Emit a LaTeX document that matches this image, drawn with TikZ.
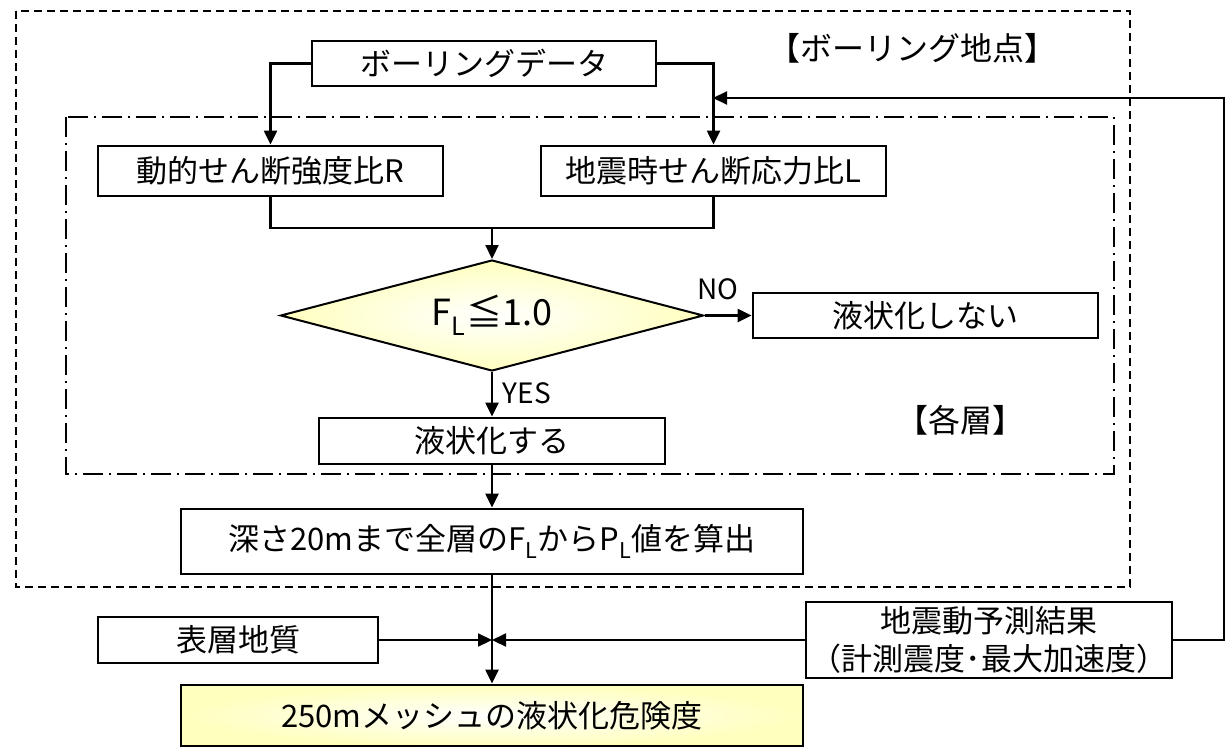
\documentclass[tikz,border=0pt]{standalone}
\usepackage{fontspec}
\setmainfont{Noto Sans CJK JP}
\usetikzlibrary{shapes.geometric,arrows.meta}
\definecolor{paleyellow}{RGB}{255,255,190}
\newcommand{\boxline}{2.8pt}
\newcommand{\linkline}{2.2pt}
\newcommand{\boxfont}{\fontsize{31}{38}\selectfont}

\tikzset{
  stepbox/.style={draw, line width=\boxline, inner sep=0pt, font=\boxfont},
  decision/.style={diamond, draw, line width=2pt, inner sep=0pt, aspect=3.8, shading=radial, inner color=white, outer color=paleyellow},
  link/.style={line width=\linkline, -{Triangle[length=14pt,width=13pt]}},
  plainlink/.style={line width=\linkline},
  tag/.style={inner sep=0pt, font=\fontsize{28}{34}\selectfont},
  framelabel/.style={inner sep=0pt, font=\fontsize{32}{38}\selectfont}
}

\begin{document}
\begin{tikzpicture}[x=1pt, y=-1pt]
\useasboundingbox (0,0) rectangle (1228,750);
\fill[white] (0,0) rectangle (1228,750);
%frames
\draw[line width=2.4pt, dash pattern=on 8pt off 5pt] (16,11) rectangle (1130,587);
\draw[line width=2.4pt, dash pattern=on 20pt off 6pt on 2pt off 6pt] (66,117) rectangle (1114,474);
\node[framelabel] (sitetag) at (912,48) {【ボーリング地点】};
\node[framelabel] (layertag) at (960,420) {【各層】};
%boxes
\node[stepbox, minimum width=344pt, minimum height=45pt] (boring) at (484,63.5) {ボーリングデータ};
\node[stepbox, minimum width=345pt, minimum height=50pt] (ratioR) at (270.5,171) {動的せん断強度比R};
\node[stepbox, minimum width=345pt, minimum height=50pt] (ratioL) at (713.5,171) {地震時せん断応力比L};
\node[decision, minimum width=423pt, minimum height=111pt, font=\fontsize{36}{42}\selectfont] (judge) at (492,315.5) {F\textsubscript{L}≦1.0};
\node[stepbox, minimum width=345pt, minimum height=45pt] (noliq) at (925.5,315.5) {液状化しない};
\node[stepbox, minimum width=346pt, minimum height=46pt] (liq) at (492,441) {液状化する};
\node[stepbox, minimum width=622pt, minimum height=65pt] (plval) at (492,541.5) {深さ20mまで全層のF\textsubscript{L}からP\textsubscript{L}値を算出};
\node[stepbox, minimum width=280pt, minimum height=46pt] (geo) at (238,640) {表層地質};
\node[stepbox, minimum width=366pt, minimum height=76pt, align=center, font=\fontsize{31}{38}\selectfont] (quake) at (989,640) {地震動予測結果\\（計測震度･最大加速度）};
\node[stepbox, minimum width=622pt, minimum height=61pt, shading=radial, inner color=white, outer color=paleyellow] (result) at (492,715.5) {250mメッシュの液状化危険度};
%points
\coordinate (merge) at (492,228);
\coordinate (join) at (492,640);
\coordinate (fbtop) at (1224,98);
\coordinate (fbin) at (713,98);
%links
\draw[link] (boring.west) -| (ratioR.north);
\draw[link] (boring.east) -| (ratioL.north);
\draw[plainlink] (ratioR.south) |- (merge) -| (ratioL.south);
\draw[link] (merge) -- (judge.north);
\draw[link] (judge.east) -- (noliq.west);
\node[tag] (nolabel) at (718,289) {NO};
\draw[link] (judge.south) -- (liq.north);
\node[tag] (yeslabel) at (527,393) {YES};
\draw[link] (liq.south) -- (plval.north);
\draw[link] (plval.south) -- (result.north);
\draw[link] (geo.east) -- (join);
\draw[link] (quake.west) -- (join);
\draw[link] (quake.east) -| (fbtop) -- (fbin);
\end{tikzpicture}
\end{document}
